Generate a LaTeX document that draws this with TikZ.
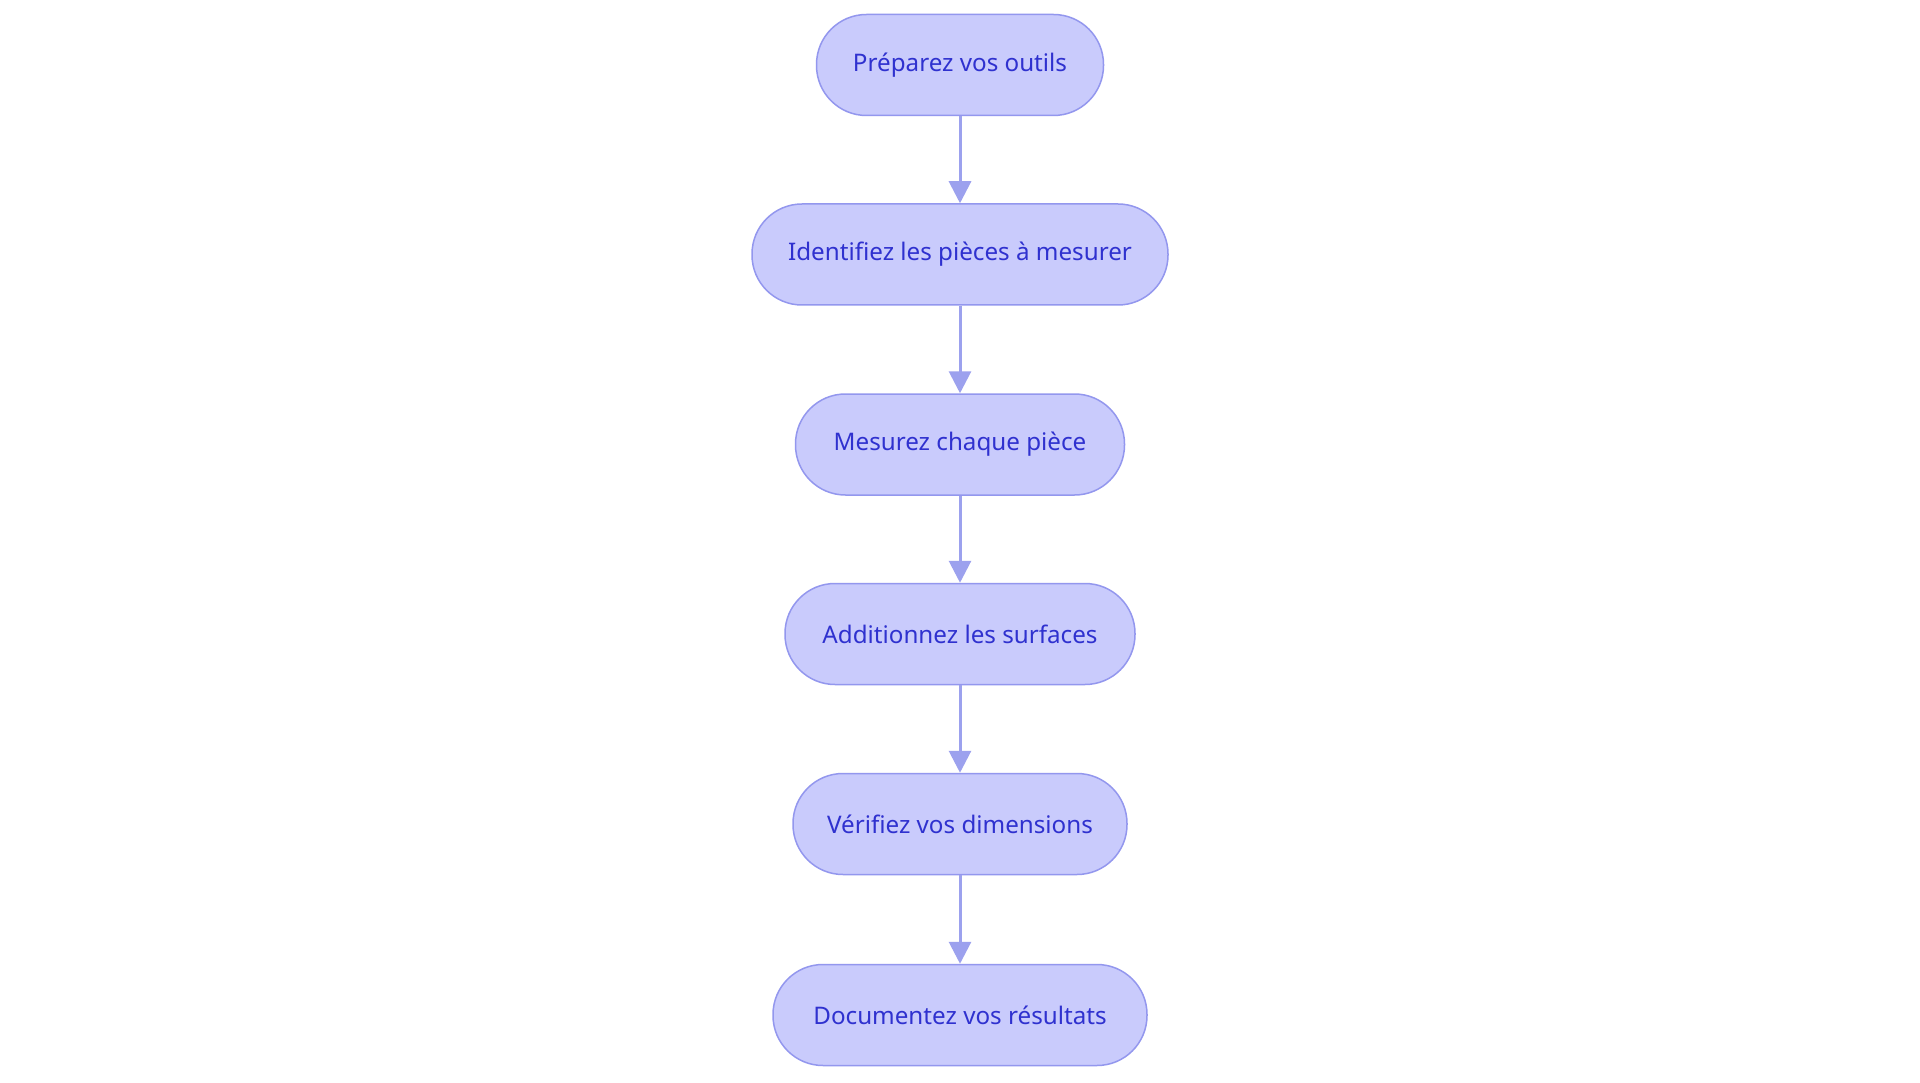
\documentclass[tikz,border=0pt]{standalone}
\usepackage{fontspec}
\setmainfont{Noto Sans}
\usetikzlibrary{arrows.meta}
\definecolor{nodefill}{HTML}{C9CBFC}
\definecolor{nodedraw}{HTML}{9397EE}
\definecolor{nodetext}{HTML}{2F31CF}
\definecolor{arrowcol}{HTML}{9CA1EE}
\tikzset{
  stepbox/.style={draw=nodedraw, fill=nodefill, line width=1.5pt, rounded corners=50pt,
    minimum height=101pt, inner sep=0pt, text=nodetext, font=\fontsize{24.2}{28}\selectfont},
  flow/.style={draw=arrowcol, line width=3pt, -{Triangle[width=22pt,length=22pt]}}
}
\begin{document}
\begin{tikzpicture}[x=1pt,y=-1pt]
\fill[white] (0,0) rectangle (1920,1083);
\useasboundingbox (0,0) rectangle (1920,1083);
\node[stepbox, minimum width=287pt] (n1) at (960,65) {Préparez vos outils};
\node[stepbox, minimum width=416pt] (n2) at (960,254.5) {Identifiez les pièces à mesurer};
\node[stepbox, minimum width=329pt] (n3) at (960,444.5) {Mesurez chaque pièce};
\node[stepbox, minimum width=350pt] (n4) at (960,634) {Additionnez les surfaces};
\node[stepbox, minimum width=334pt] (n5) at (960,824) {Vérifiez vos dimensions};
\node[stepbox, minimum width=374pt] (n6) at (960,1015) {Documentez vos résultats};
\draw[flow] (n1) -- (n2);
\draw[flow] (n2) -- (n3);
\draw[flow] (n3) -- (n4);
\draw[flow] (n4) -- (n5);
\draw[flow] (n5) -- (n6);
\end{tikzpicture}
\end{document}
